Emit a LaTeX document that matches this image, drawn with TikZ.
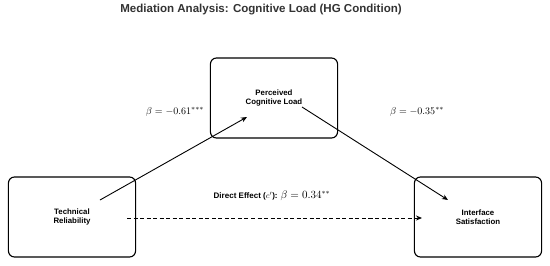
\documentclass[tikz,border=0pt]{standalone}
\usepackage{fontspec}
\setmainfont{Liberation Sans}
\usetikzlibrary{arrows.meta,calc}

\begin{document}
\begin{tikzpicture}[
    x=0.035cm, y=-0.035cm,
    var/.style={rectangle, draw, rounded corners=6pt, line width=1.1pt, minimum width=4.45cm, minimum height=2.8cm, align=center, font=\fontsize{7.8}{9.3}\selectfont\bfseries},
    path_arrow/.style={-{Stealth[length=6pt,width=5pt]}, line width=0.9pt},
    direct_arrow/.style={path_arrow, dash pattern=on 4pt off 2.5pt},
    coef/.style={font=\fontsize{9.6}{11}\selectfont}
]
\useasboundingbox (0,0) rectangle (550,265);

% Title
\node[font=\fontsize{11.5}{13}\selectfont\bfseries, text=black!80] (title) at (261,10) {Mediation Analysis: Cognitive Load (HG Condition)};

% Variables
\node[var] (load) at (274,98) {Perceived\\Cognitive Load};
\node[var] (tech) at (72,217) {Technical\\Reliability};
\node[var] (sat) at (478,217) {Interface\\Satisfaction};

% Arrow ends inside the boxes
\coordinate (a_start) at ($(tech.center)+(28,-17)$);
\coordinate (a_end) at ($(load.center)+(-27,19)$);
\coordinate (b_start) at ($(load.center)+(28,9)$);
\coordinate (b_end) at ($(sat.center)+(-30,-17)$);
\coordinate (c_start) at ($(tech.center)+(55,1)$);
\coordinate (c_end) at ($(sat.center)+(-56,1)$);

% Indirect paths
\draw[path_arrow] (a_start) -- (a_end);
\draw[path_arrow] (b_start) -- (b_end);

% Direct path (dashed)
\draw[direct_arrow] (c_start) -- (c_end);

% Coefficients
\node[coef] (a_coef) at (175,112) {$\beta = -0.61^{***}$};
\node[coef] (b_coef) at (417,112) {$\beta = -0.35^{**}$};
\node[coef] (c_coef) at (272,196) {\fontsize{8}{9.5}\selectfont\bfseries Direct Effect ($c'$): \fontsize{10.5}{12}\selectfont\mdseries $\beta = 0.34^{**}$};

\end{tikzpicture}
\end{document}
